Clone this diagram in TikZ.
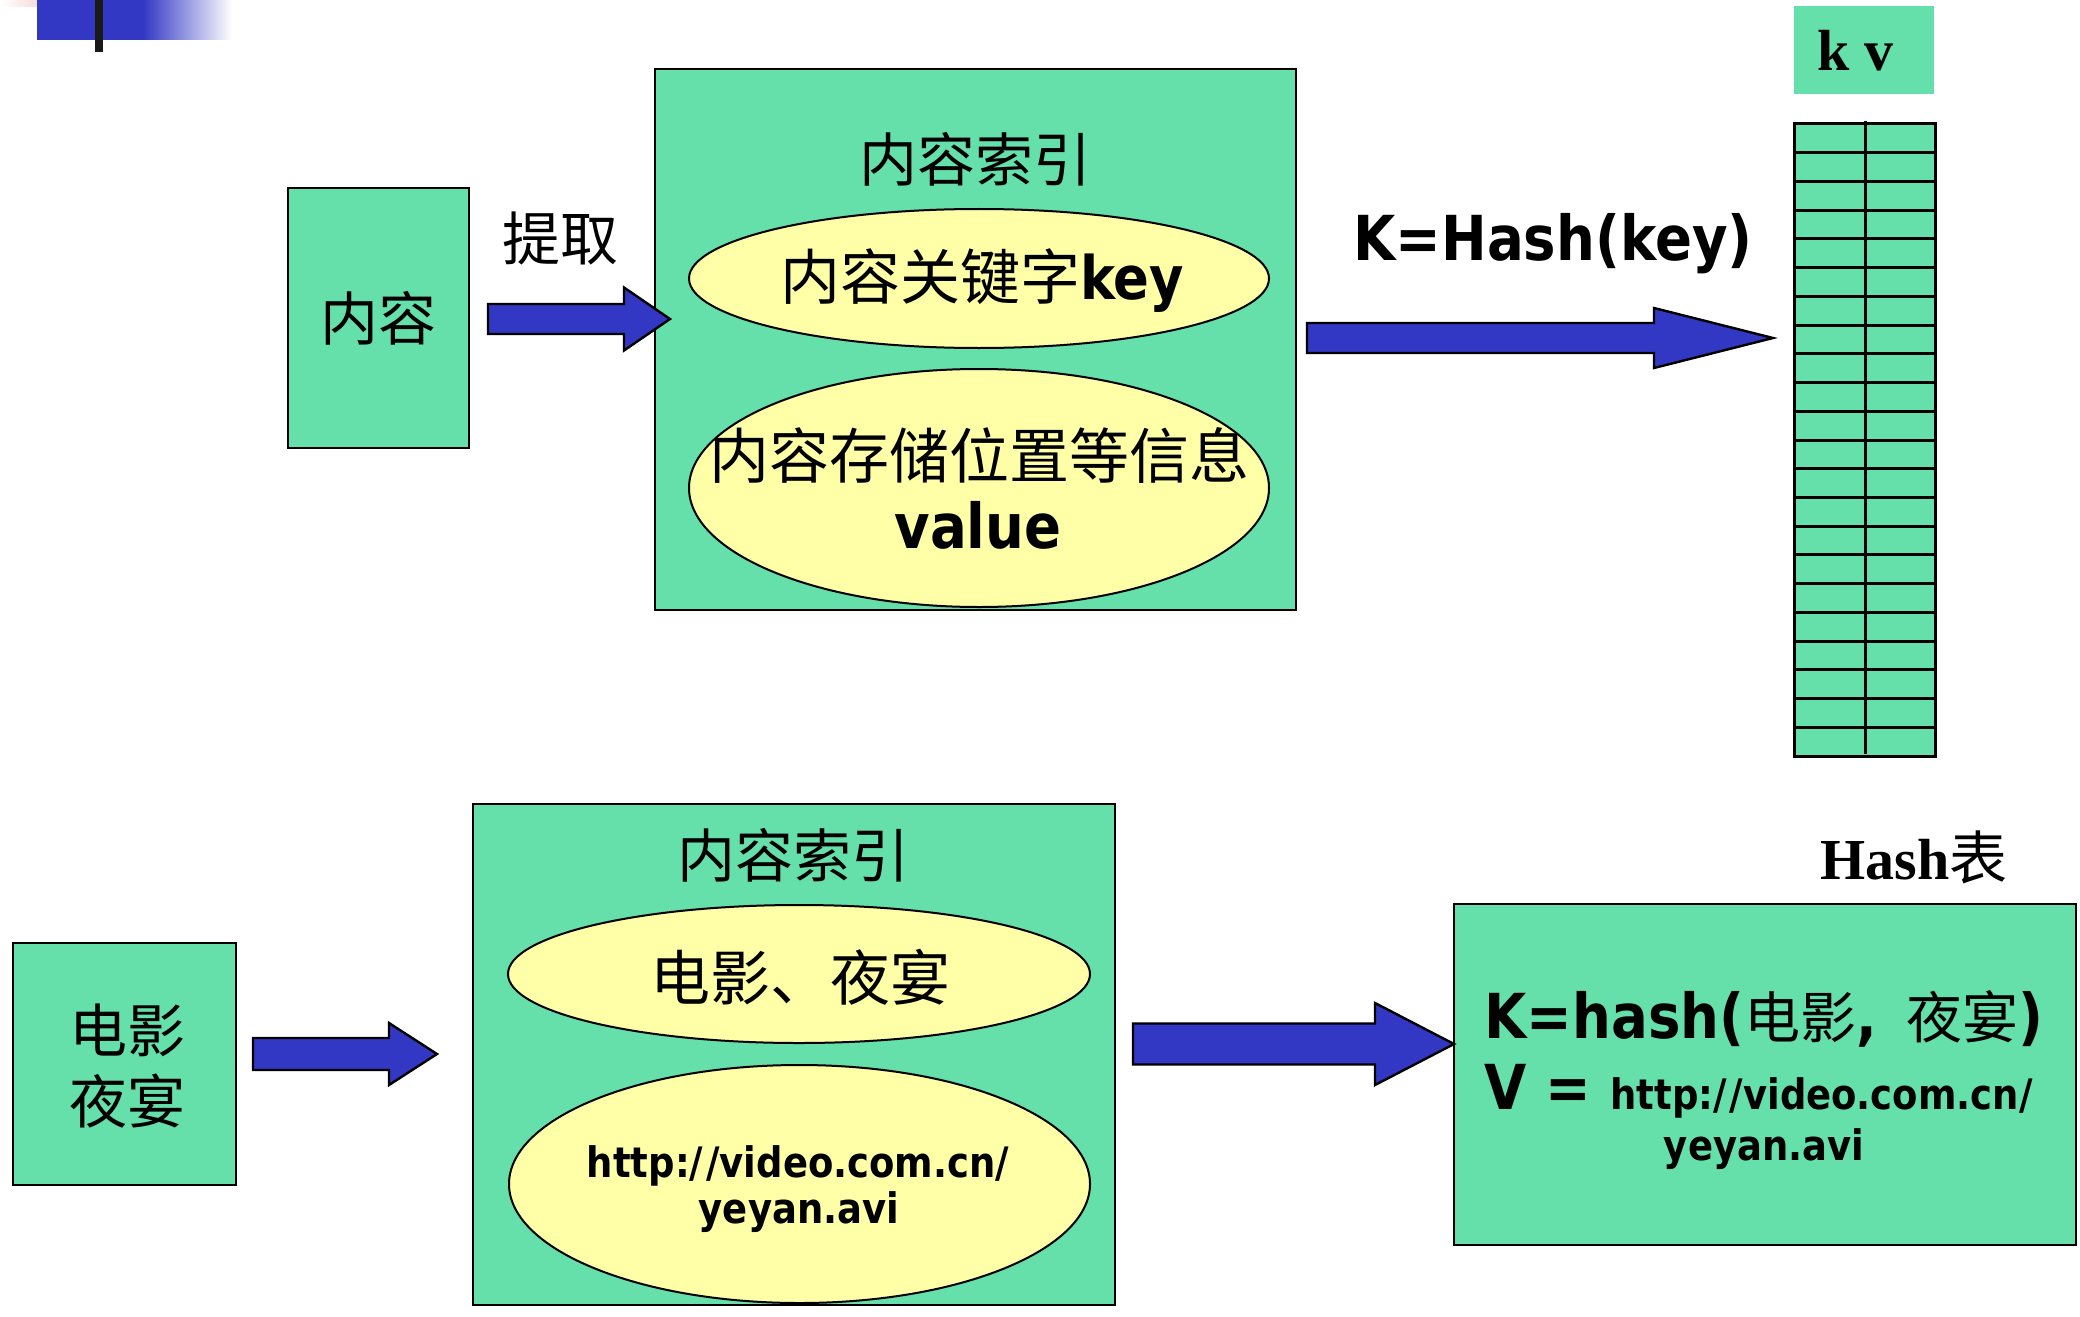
\documentclass[tikz,border=0pt]{standalone}
\usepackage{fontspec}
\setmainfont{Liberation Serif}
\newfontfamily\cjk{Noto Sans CJK SC}
\newfontfamily\tahoma{DejaVu Sans}[FakeStretch=0.88]
\usetikzlibrary{calc}
\usetikzlibrary{shapes.geometric}
\pgfdeclarelayer{edgelayer}
\pgfdeclarelayer{nodelayer}
\pgfsetlayers{main,nodelayer,edgelayer}
\definecolor{boxgreen}{RGB}{102,224,170}
\definecolor{ovalyellow}{RGB}{255,255,168}
\definecolor{arrowblue}{RGB}{51,56,196}
\definecolor{logopink}{RGB}{240,185,185}
\tikzstyle{none}=[inner sep=0pt]
\tikzstyle{greenbox}=[rectangle,fill=boxgreen,draw=black,line width=1.2pt,inner sep=0pt]
\tikzstyle{yellowoval}=[ellipse,fill=ovalyellow,draw=black,line width=1pt,inner sep=0pt]
\tikzstyle{hanzi}=[inner sep=0pt,font=\cjk\fontsize{29}{35.5}\selectfont]
\tikzstyle{hanzibig}=[inner sep=0pt,font=\cjk\fontsize{30}{36}\selectfont]
\tikzstyle{sansbold}=[inner sep=0pt,font=\tahoma\bfseries\fontsize{31}{36}\selectfont]
\tikzstyle{urltext}=[inner sep=0pt,font=\tahoma\bfseries\fontsize{21}{24}\selectfont]
\tikzstyle{serifbold}=[inner sep=0pt,font=\bfseries\fontsize{29}{34}\selectfont]
\tikzstyle{fatarrow}=[fill=arrowblue,draw=black,line width=1.2pt,line join=miter]
\tikzstyle{gridline}=[draw=black,line width=1.5pt]
% block arrow: start, tip, half shaft, half head, head length
\newcommand{\blockarrow}[5]{%
  \draw [style=fatarrow] let \p1=(#1), \p2=(#2) in
    (\x1,\y1+#3) -- (\x2-#5,\y1+#3) -- (\x2-#5,\y1+#4) -- (\x2,\y2)
    -- (\x2-#5,\y1-#4) -- (\x2-#5,\y1-#3) -- (\x1,\y1-#3) -- cycle;}
\newcommand{\hz}[1]{{\cjk\mdseries\fontsize{28}{30}\selectfont #1}}

\begin{document}
\begin{tikzpicture}[x=0.5pt,y=-0.5pt]
	\useasboundingbox (0,0) rectangle (2080,1316);
	% logo
	\shade [left color=white,right color=logopink] (0,0) rectangle (76,7);
	\fill [arrowblue] (37,0) rectangle (143,40);
	\shade [left color=arrowblue,right color=white] (143,0) rectangle (232,40);
	\fill [black!90] (95,0) rectangle (103,52);
	% hash table
	\fill [boxgreen] (1794,124) rectangle (1935,756);
	\foreach \row in {1,...,21}
		\draw [style=gridline] (1794,{124+\row*28.727}) -- (1935,{124+\row*28.727});
	\draw [style=gridline] (1794,124) rectangle (1935,756);
	\draw [style=gridline] (1865,121) -- (1865,754);
	\begin{pgfonlayer}{nodelayer}
		\node [style=greenbox,minimum width=70pt,minimum height=44pt,draw=none] (kvhead) at (1864,50) {};
		\node [style=serifbold,anchor=base west] (kvtext) at (1817,71) {k v};
		\node [style=greenbox,minimum width=90.5pt,minimum height=130pt] (content) at (378.5,318) {};
		\node [style=hanzi] (contenttext) at (content.center) {内容};
		\node [style=hanzi] (fetchtext) at (560,238) {提取};
		\node [style=greenbox,minimum width=320.5pt,minimum height=270.5pt] (topindex) at (975.5,339.5) {};
		\node [style=hanzi] (toptitle) at (975,159) {内容索引};
		\node [style=yellowoval,minimum width=290pt,minimum height=69.5pt] (topkey) at (979,278.5) {};
		\node [style=hanzibig] (topkeytext) at (982,281) {内容关键字{\tahoma\bfseries key}};
		\node [style=yellowoval,minimum width=290pt,minimum height=119pt] (topvalue) at (979,488) {};
		\node [style=hanzibig] (topvaluetext) at (979,455) {内容存储位置等信息};
		\node [style=sansbold,anchor=base] (topvaluename) at (978,548) {value};
		\node [style=sansbold,anchor=base west] (hashkeytext) at (1353,260) {K=Hash(key)};
		\node [style=greenbox,minimum width=111.5pt,minimum height=121pt] (movie) at (124.5,1064) {};
		\node [style=hanzi,align=center] (movietext) at (127,1066) {电影\\夜宴};
		\node [style=greenbox,minimum width=321pt,minimum height=250.5pt] (bottomindex) at (794,1054.5) {};
		\node [style=hanzi] (bottomtitle) at (793,855) {内容索引};
		\node [style=yellowoval,minimum width=291pt,minimum height=69pt] (bottomkey) at (799,974) {};
		\node [style=hanzibig] (bottomkeytext) at (800,977) {电影、夜宴};
		\node [style=yellowoval,minimum width=290.5pt,minimum height=119pt] (bottomvalue) at (799.5,1184) {};
		\node [style=urltext,anchor=base] (bottomurl) at (798,1177) {http:/\kern1.5pt/video.com.cn/};
		\node [style=urltext,anchor=base] (bottomfile) at (799,1223) {yeyan.avi};
		\node [style=serifbold,anchor=base west] (hashtitle) at (1820,879) {Hash{\cjk\mdseries 表}};
		\node [style=greenbox,minimum width=311pt,minimum height=170.5pt] (hashbox) at (1765,1074.5) {};
		\node [style=sansbold,anchor=base west] (hashk) at (1484,1038) {K=hash(\hz{电影},\ \,\hz{夜宴})};
		\node [style=sansbold,anchor=base west] (hashv) at (1484,1109) {V = {\fontsize{21}{24}\selectfont http:/\kern1.5pt/video.com.cn/}};
		\node [style=urltext,anchor=base] (hashfile) at (1764,1160) {yeyan.avi};
		% arrow ends
		\node [style=none] (fetch) at (488,319) {};
		\node [style=none] (fetch0) at (670,319) {};
		\node [style=none] (hashkey) at (1307,338) {};
		\node [style=none] (hashkey0) at (1773,338) {};
		\node [style=none] (lookup) at (253,1054) {};
		\node [style=none] (lookup0) at (437,1054) {};
		\node [style=none] (store) at (1133,1044) {};
		\node [style=none] (store0) at (1454,1044) {};
	\end{pgfonlayer}
	\begin{pgfonlayer}{edgelayer}
		\blockarrow{fetch}{fetch0}{7.5pt}{15.75pt}{23pt}
		\blockarrow{hashkey}{hashkey0}{7.5pt}{15pt}{59.5pt}
		\blockarrow{lookup}{lookup0}{8pt}{15.5pt}{24pt}
		\blockarrow{store}{store0}{10.25pt}{20.5pt}{39.5pt}
	\end{pgfonlayer}
\end{tikzpicture}
\end{document}
